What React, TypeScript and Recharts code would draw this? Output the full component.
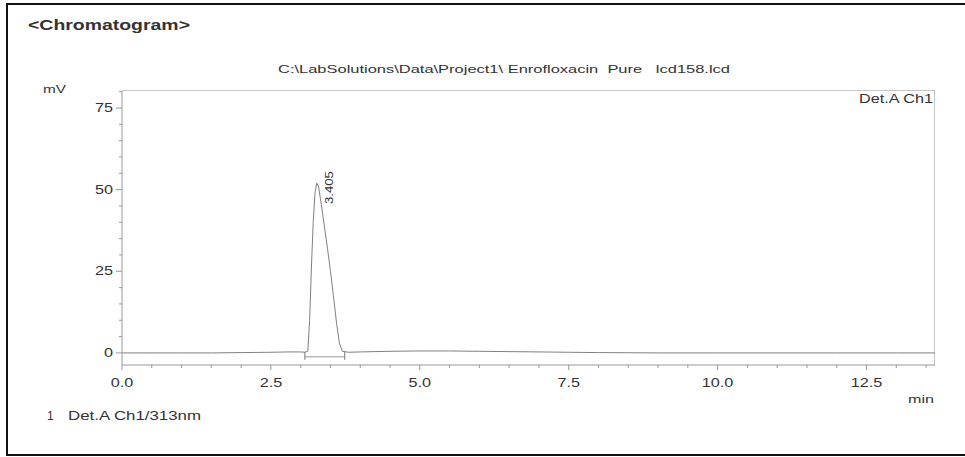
import { Line, LineChart, XAxis, YAxis } from "recharts"

// retention time (min) and detector signal (mV)
const times = [0, 0.5, 1, 1.5, 2, 2.5, 2.8, 3.0, 3.07, 3.12, 3.15, 3.18, 3.21, 3.24, 3.27, 3.3, 3.35, 3.4, 3.45, 3.5, 3.55, 3.6, 3.65, 3.7, 3.8, 4.0, 4.5, 5, 5.5, 6, 6.5, 7, 7.5, 8, 9, 10, 11, 12, 13, 13.65]
const signal = [0, 0, 0, 0, 0.1, 0.2, 0.3, 0.3, 0.2, 0.5, 10, 26, 40, 49, 52, 51, 45, 38.5, 32, 25, 17.5, 9.5, 3, 0.5, 0.2, 0.3, 0.5, 0.6, 0.6, 0.5, 0.4, 0.3, 0.2, 0.1, 0, 0, 0, 0, 0, 0]

// integration baseline under the peak
const baselineTimes = [3.07, 3.74]
const baselineValues = [-1.2, -1.2]

const peakLabel = "3.405"

const xTicks = [0, 0.5, 1, 1.5, 2, 2.5, 3, 3.5, 4, 4.5, 5, 5.5, 6, 6.5, 7, 7.5, 8, 8.5, 9, 9.5, 10, 10.5, 11, 11.5, 12, 12.5, 13, 13.5]
const yTicks = [0, 5, 10, 15, 20, 25, 30, 35, 40, 45, 50, 55, 60, 65, 70, 75, 80]

const chromatogram = times.map((t, i) => ({ t, mv: signal[i] }))
const baseline = baselineTimes.map((t, i) => ({ t, mv: baselineValues[i] }))
const apexIndex = signal.indexOf(Math.max(...signal))

const FONT = "'Liberation Sans', Arial, sans-serif"
const TEXT = "#333"
const AXIS = "#999"
const SX = 1.35

const XTick = ({ x, y, payload }: any) => {
  const v = payload.value
  const major = Math.abs(v / 2.5 - Math.round(v / 2.5)) < 1e-6
  return (
    <g>
      <line x1={x} y1={y} x2={x} y2={y + (major ? 5 : 3)} stroke={AXIS} />
      {major && (
        <text transform={`translate(${x},${y + 22}) scale(${SX},1)`} textAnchor="middle" fontSize={12} fontFamily={FONT} fill={TEXT}>
          {v.toFixed(1)}
        </text>
      )}
    </g>
  )
}

const YTick = ({ x, y, payload }: any) => {
  const v = payload.value
  const major = v % 25 === 0
  return (
    <g>
      <line x1={x - (major ? 6 : 3)} y1={y} x2={x} y2={y} stroke={AXIS} />
      {major && (
        <text transform={`translate(${x - 9},${y + 4}) scale(${SX},1)`} textAnchor="end" fontSize={12} fontFamily={FONT} fill={TEXT}>
          {v}
        </text>
      )}
    </g>
  )
}

const PeakLabel = ({ x, y, index }: any) => {
  if (index !== apexIndex) return null
  return (
    <text transform={`translate(${x + 16},${y + 21}) rotate(-90)`} textAnchor="start" fontSize={11} fontFamily={FONT} fill={TEXT} textLength={33} lengthAdjust="spacingAndGlyphs">
      {peakLabel}
    </text>
  )
}

const BaselineMark = ({ cx, cy }: any) => (
  <line x1={cx} y1={cy - 5} x2={cx} y2={cy + 3} stroke="#777" />
)

export default function App() {
  return (
    <div style={{ position: "relative", width: 965, height: 457, background: "#fff", overflow: "hidden" }}>
      <style>{"body{margin:0}"}</style>
      <div style={{ position: "absolute", left: 6, top: 3, width: 1000, height: 449, border: "2px solid #111" }} />
      {/* plot frame, top and right edges */}
      <div style={{ position: "absolute", left: 122, top: 90, width: 812, height: 275, borderTop: "1px solid #c8c8c8", borderRight: "1px solid #c8c8c8" }} />
      <LineChart width={965} height={457} margin={{ top: 91, right: 30, bottom: 0, left: 0 }} style={{ position: "absolute", left: 0, top: 0 }}>
        <XAxis
          type="number"
          dataKey="t"
          domain={[0, 13.65]}
          ticks={xTicks}
          interval={0}
          allowDataOverflow
          height={92}
          tickLine={false}
          tickSize={0}
          tickMargin={0}
          axisLine={{ stroke: AXIS }}
          tick={(p: any) => <XTick {...p} />}
        />
        <YAxis
          type="number"
          domain={[-3.7, 80.2]}
          ticks={yTicks}
          interval={0}
          allowDataOverflow
          width={122}
          tickLine={false}
          tickSize={0}
          tickMargin={0}
          axisLine={{ stroke: AXIS }}
          tick={(p: any) => <YTick {...p} />}
        />
        <Line data={baseline} dataKey="mv" stroke="#999" strokeWidth={1} dot={(p: any) => <BaselineMark key={p.index} {...p} />} isAnimationActive={false} />
        <Line data={chromatogram} dataKey="mv" stroke="#808080" strokeWidth={1} dot={false} label={(p: any) => <PeakLabel key={p.index} {...p} />} isAnimationActive={false} />
      </LineChart>
      <svg width={965} height={457} style={{ position: "absolute", left: 0, top: 0, pointerEvents: "none" }} fontFamily={FONT} fill={TEXT}>
        <text x={28} y={30} fontSize={14} fontWeight="bold" textLength={162} lengthAdjust="spacingAndGlyphs">{"<Chromatogram>"}</text>
        <text x={278} y={73} fontSize={11} textLength={452} lengthAdjust="spacingAndGlyphs" style={{ whiteSpace: "pre" }}>
          {"C:\\LabSolutions\\Data\\Project1\\ Enrofloxacin  Pure   lcd158.lcd"}
        </text>
        <text x={43} y={93} fontSize={11} textLength={23} lengthAdjust="spacingAndGlyphs">mV</text>
        <text x={933} y={103} fontSize={12} textAnchor="end" textLength={74} lengthAdjust="spacingAndGlyphs">Det.A Ch1</text>
        <text x={934} y={403} fontSize={11} textAnchor="end" textLength={26} lengthAdjust="spacingAndGlyphs">min</text>
        <text x={47} y={420} fontSize={12}>1</text>
        <text x={68} y={420} fontSize={12} textLength={133} lengthAdjust="spacingAndGlyphs">Det.A Ch1/313nm</text>
      </svg>
    </div>
  )
}
